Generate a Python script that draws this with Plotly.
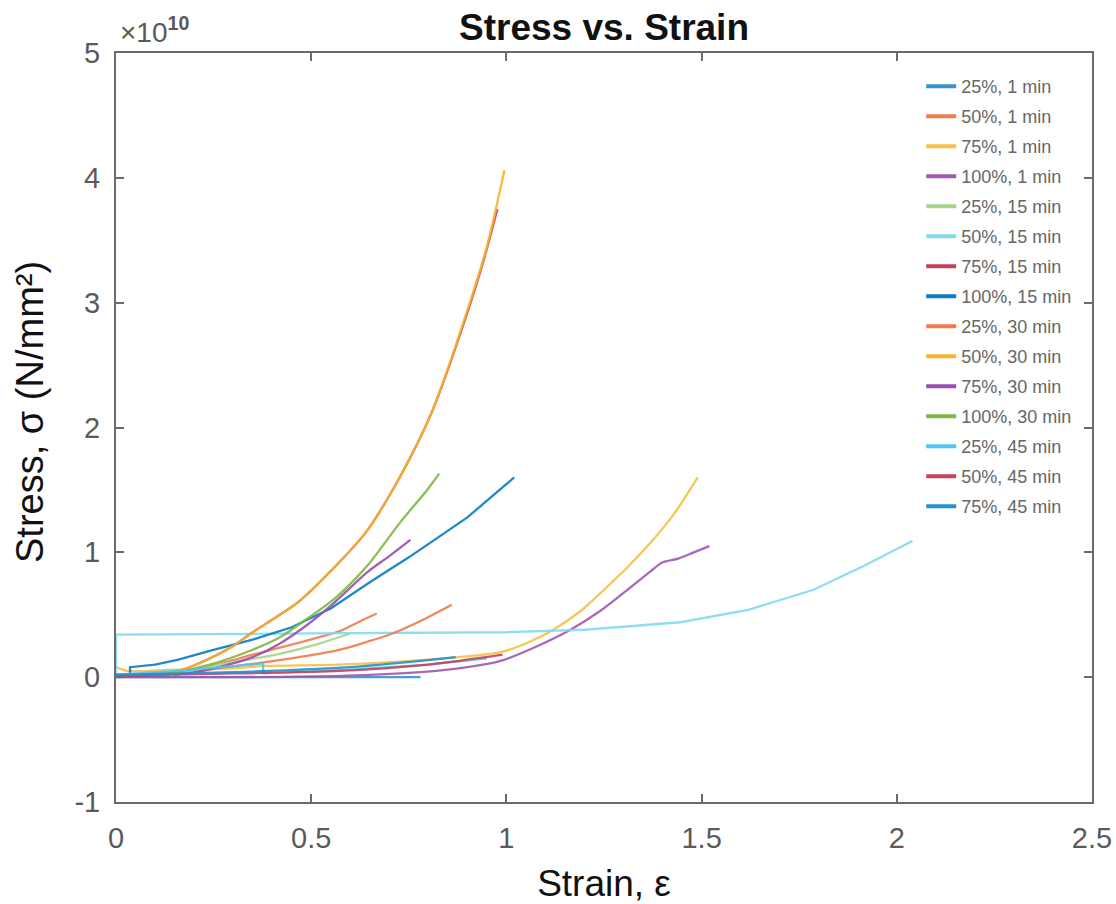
import plotly.graph_objects as go

# ---- data (stress in units of 1e10 N/mm^2) ----
labels = ["25%, 1 min", "50%, 1 min", "75%, 1 min", "100%, 1 min",
          "25%, 15 min", "50%, 15 min", "75%, 15 min", "100%, 15 min",
          "25%, 30 min", "50%, 30 min", "75%, 30 min", "100%, 30 min",
          "25%, 45 min", "50%, 45 min", "75%, 45 min"]
colors = ["#3A92CE", "#F07E4E", "#F6C244", "#9F59B2",
          "#A7D48B", "#83D9F4", "#C7405A", "#0B7BC4",
          "#F27A4A", "#F7B52C", "#9A4DAF", "#7DB942",
          "#4FC8EE", "#C8425C", "#2290D2"]
shapes_ = ["linear", "spline", "spline", "spline",
           "spline", "linear", "spline", "linear",
           "spline", "spline", "spline", "spline",
           "linear", "spline", "spline"]

strain_25_1 = [0, 0.2, 0.4, 0.6, 0.78]
stress_25_1 = [0.0, 0.0, 0.0, 0.0, 0.0]
strain_50_1 = [0.12, 0.2, 0.28, 0.35, 0.45, 0.52, 0.574, 0.62, 0.668]
stress_50_1 = [0.02, 0.06, 0.12, 0.18, 0.26, 0.32, 0.37, 0.44, 0.51]
strain_75_1 = [0, 0.03, 0.15, 0.3, 0.38, 0.57, 0.8, 0.985, 1.05, 1.12, 1.19, 1.25, 1.31, 1.37, 1.43, 1.49]
stress_75_1 = [0.08, 0.05, 0.06, 0.07, 0.09, 0.10, 0.14, 0.20, 0.27, 0.38, 0.53, 0.70, 0.88, 1.08, 1.31, 1.60]
strain_100_1 = [0, 0.3, 0.574, 0.78, 0.9, 0.985, 1.08, 1.164, 1.24, 1.31, 1.37, 1.40, 1.44, 1.48, 1.52]
stress_100_1 = [0.0, 0.0, 0.01, 0.04, 0.08, 0.13, 0.25, 0.38, 0.53, 0.70, 0.85, 0.92, 0.95, 1.00, 1.05]
strain_25_15 = [0.15, 0.21, 0.3, 0.41, 0.5, 0.6]
stress_25_15 = [0.03, 0.07, 0.12, 0.18, 0.25, 0.35]
strain_50_15 = [0, 0, 0.5, 1.0, 1.2, 1.446, 1.62, 1.787, 1.915, 2.04]
stress_50_15 = [0, 0.34, 0.35, 0.36, 0.38, 0.44, 0.54, 0.70, 0.89, 1.09]
strain_75_15 = [0, 0.05, 0.1, 0.16, 0.24, 0.3, 0.35, 0.41, 0.47, 0.55, 0.64, 0.73, 0.81, 0.9, 0.94, 0.977]
stress_75_15 = [0.01, 0.02, 0.03, 0.05, 0.15, 0.25, 0.36, 0.48, 0.61, 0.85, 1.16, 1.62, 2.13, 2.92, 3.32, 3.75]
strain_100_15 = [0.036, 0.036, 0.1, 0.16, 0.24, 0.35, 0.45, 0.55, 0.65, 0.75, 0.83, 0.9, 0.96, 1.02]
stress_100_15 = [0.0, 0.08, 0.10, 0.14, 0.21, 0.30, 0.40, 0.55, 0.76, 0.96, 1.13, 1.28, 1.44, 1.60]
strain_25_30 = [0.2, 0.28, 0.36, 0.45, 0.574, 0.65, 0.70, 0.78, 0.86]
stress_25_30 = [0.04, 0.08, 0.11, 0.15, 0.22, 0.29, 0.34, 0.45, 0.58]
strain_50_30 = [0, 0.05, 0.1, 0.16, 0.24, 0.3, 0.35, 0.41, 0.47, 0.55, 0.64, 0.73, 0.81, 0.9, 0.95, 0.995]
stress_50_30 = [0.02, 0.02, 0.03, 0.05, 0.15, 0.25, 0.36, 0.48, 0.61, 0.85, 1.16, 1.62, 2.13, 2.94, 3.45, 4.06]
strain_75_30 = [0.15, 0.22, 0.30, 0.35, 0.42, 0.49, 0.56, 0.643, 0.70, 0.754]
stress_75_30 = [0.02, 0.05, 0.11, 0.16, 0.27, 0.42, 0.60, 0.84, 0.97, 1.10]
strain_100_30 = [0.1, 0.156, 0.24, 0.35, 0.42, 0.49, 0.56, 0.643, 0.728, 0.797, 0.828]
stress_100_30 = [0.02, 0.04, 0.10, 0.22, 0.32, 0.47, 0.63, 0.89, 1.24, 1.50, 1.63]
strain_25_45 = [0, 0.2, 0.377, 0.377, 0.6, 0.8, 0.95]
stress_25_45 = [0.02, 0.06, 0.11, 0.03, 0.06, 0.10, 0.15]
strain_50_45 = [0, 0.3, 0.574, 0.8, 0.99]
stress_50_45 = [0.01, 0.03, 0.05, 0.10, 0.18]
strain_75_45 = [0, 0.3, 0.6, 0.87]
stress_75_45 = [0.02, 0.04, 0.08, 0.16]

strains = [strain_25_1, strain_50_1, strain_75_1, strain_100_1,
           strain_25_15, strain_50_15, strain_75_15, strain_100_15,
           strain_25_30, strain_50_30, strain_75_30, strain_100_30,
           strain_25_45, strain_50_45, strain_75_45]
stresses = [stress_25_1, stress_50_1, stress_75_1, stress_100_1,
            stress_25_15, stress_50_15, stress_75_15, stress_100_15,
            stress_25_30, stress_50_30, stress_75_30, stress_100_30,
            stress_25_45, stress_50_45, stress_75_45]

x_ticks = [0, 0.5, 1, 1.5, 2, 2.5]
x_ticktext = ["0", "0.5", "1", "1.5", "2", "2.5"]
y_ticks = [-1, 0, 1, 2, 3, 4, 5]
y_ticktext = ["-1", "0", "1", "2", "3", "4", "5"]

FONT = "Liberation Sans, Arial, sans-serif"
fig = go.Figure()
for lab, col, shp, xs, ys in zip(labels, colors, shapes_, strains, stresses):
    fig.add_trace(go.Scatter(x=xs, y=ys, mode="lines", name=lab,
                             line=dict(color=col, width=2.3, shape=shp, smoothing=0.8),
                             opacity=0.9, legendgroup=lab, showlegend=False,
                             hoverinfo="skip"))
for lab, col in zip(labels, colors):
    fig.add_trace(go.Scatter(x=[None], y=[None], mode="lines", name=lab,
                             line=dict(color=col, width=4),
                             legendgroup=lab, showlegend=True))

axis_common = dict(showgrid=False, zeroline=False, showline=True, linecolor="#6b6b6b",
                   linewidth=2, ticks="inside", ticklen=8, tickwidth=2, tickcolor="#6b6b6b",
                   mirror="ticks", automargin=False,
                   tickfont=dict(family=FONT, size=29, color="#5a5a5a"))

fig.update_layout(
    width=1116, height=904,
    paper_bgcolor="white", plot_bgcolor="white",
    margin=dict(l=116, r=24, t=53, b=102),
    font=dict(family=FONT),
    title=dict(text="<b>Stress vs. Strain</b>", x=604/1116, xanchor="center",
               y=1 - 27/904, yanchor="middle",
               font=dict(family=FONT, size=37, color="#111111")),
    xaxis=dict(range=[0, 2.5], tickvals=x_ticks, ticktext=x_ticktext,
               title=dict(text="Strain, ε", font=dict(family=FONT, size=37, color="#111111"),
                          standoff=20),
               ticklabelstandoff=9, **axis_common),
    yaxis=dict(range=[-1, 5], tickvals=y_ticks, ticktext=y_ticktext,
               ticklabelstandoff=8, **axis_common),
    legend=dict(x=0.825, y=0.980, xanchor="left", yanchor="top",
                bgcolor="rgba(255,255,255,0)", borderwidth=0,
                font=dict(family=FONT, size=18, color="#666666"),
                traceorder="grouped", tracegroupgap=3.6),
    showlegend=True,
)
fig.add_annotation(text="Stress, σ (N/mm²)", textangle=-90, xref="paper", yref="paper",
                   x=0.0, y=(802 - 412) / 749, xanchor="center", yanchor="middle",
                   xshift=-86, showarrow=False,
                   font=dict(family=FONT, size=38, color="#111111"))
fig.add_annotation(text="×10<sup><b>10</b></sup>", xref="paper", yref="paper",
                   x=0.0, y=1.0, xanchor="left", yanchor="bottom", yshift=3, xshift=2,
                   showarrow=False, font=dict(family=FONT, size=28, color="#5a5a5a"))

# remove the page's default body margin so the 1116x904 figure fills the window exactly
fig.write_html("out.html", config={"displayModeBar": False},
               post_script="document.body.style.margin='0';document.body.style.overflow='hidden';")
